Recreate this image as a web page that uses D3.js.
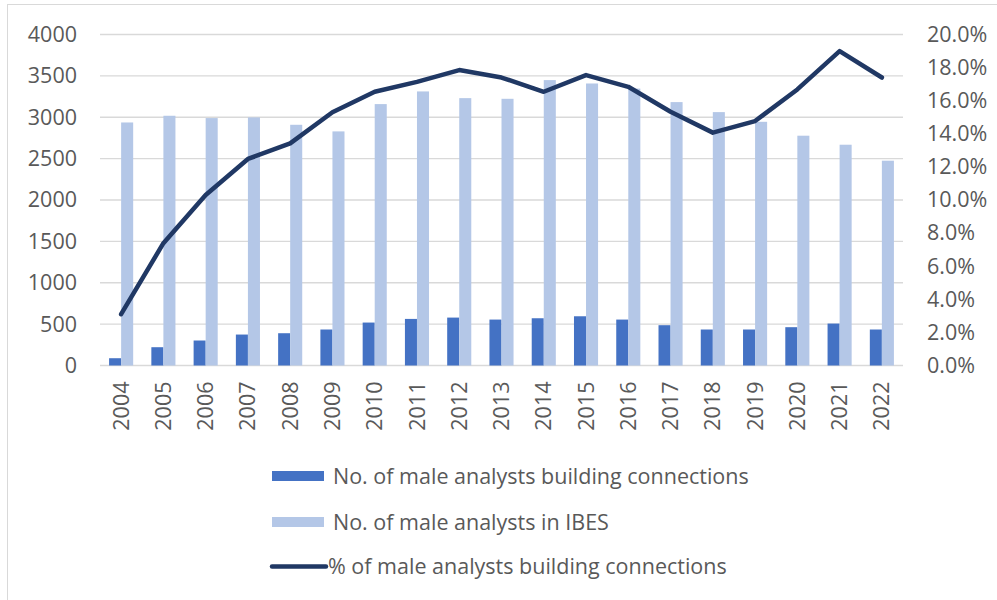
<!DOCTYPE html>
<html lang="en">

<head>
    <meta charset="UTF-8" />
    <script src="https://d3js.org/d3.v7.min.js"></script>
    <title>male analysts</title>
    <style>
        body { margin: 0; background: #fff; }
        svg { display: block; }
        text { font-family: "Open Sans", "Liberation Sans", sans-serif; fill: #595959; }
    </style>
</head>

<body>
    <svg width="997" height="600"></svg>
</body>
<script>
    const years = ["2004", "2005", "2006", "2007", "2008", "2009", "2010", "2011", "2012", "2013",
        "2014", "2015", "2016", "2017", "2018", "2019", "2020", "2021", "2022"]
    const connected = [88, 221, 302, 374, 390, 435, 519, 563, 579, 555, 571, 595, 555, 487, 435, 435, 463, 507, 435]
    const inIbes = [2937, 3018, 2990, 2998, 2909, 2829, 3159, 3312, 3231, 3223, 3449, 3408, 3346, 3183, 3062, 2945, 2777, 2668, 2475]
    const pct = [3.1, 7.39, 10.3, 12.48, 13.42, 15.3, 16.54, 17.14, 17.85, 17.4, 16.54, 17.55, 16.84, 15.33, 14.07, 14.77, 16.68, 19.0, 17.4]
    const leftTicks = [0, 500, 1000, 1500, 2000, 2500, 3000, 3500, 4000]
    const rightTicks = [0, 2, 4, 6, 8, 10, 12, 14, 16, 18, 20]
    const seriesNames = ["No. of male analysts building connections", "No. of male analysts in IBES", "% of male analysts building connections"]
    const colors = ["#4472C4", "#B4C7E7", "#203864"]

    const margin = { left: 100, right: 94, top: 34.5, bottom: 234.5 }
    const width = 997
    const height = 600
    const fs = 21.5

    const svg = d3.select("svg")

    // chart border (right/bottom run off the picture)
    svg.append("rect").attr("x", 7.5).attr("y", 4.5).attr("width", 1000).attr("height", 700)
        .attr("fill", "none").attr("stroke", "#D9D9D9")

    const x0 = d3.scaleBand().domain(years).range([margin.left, width - margin.right]).paddingInner(0.43).paddingOuter(0.215)
    const x1 = d3.scaleBand().domain([0, 1]).range([0, x0.bandwidth()])
    const y = d3.scaleLinear().domain([0, 4000]).range([height - margin.bottom, margin.top])
    const y2 = d3.scaleLinear().domain([0, 20]).range([height - margin.bottom, margin.top])

    // grid
    svg.append("g").selectAll("line").data(leftTicks).enter().append("line")
        .attr("x1", margin.left).attr("x2", width - margin.right)
        .attr("y1", d => y(d)).attr("y2", d => y(d))
        .attr("stroke", "#D9D9D9").attr("stroke-width", 1.3)

    // left axis
    const yAxis = g => g.attr("transform", `translate(${margin.left - 23},0)`)
        .call(d3.axisLeft(y).tickValues(leftTicks).tickSize(0).tickPadding(0).tickFormat(d3.format("d")))
        .call(g => g.select(".domain").remove())
        .call(g => g.selectAll("text").attr("font-size", fs).style("fill", "#595959"))
    svg.append("g").call(yAxis)

    // right axis
    const yAxis2 = g => g.attr("transform", `translate(${width - margin.right + 24},0)`)
        .call(d3.axisRight(y2).tickValues(rightTicks).tickSize(0).tickPadding(0).tickFormat(d => d.toFixed(1) + "%"))
        .call(g => g.select(".domain").remove())
        .call(g => g.selectAll("text").attr("font-size", fs).style("fill", "#595959"))
    svg.append("g").call(yAxis2)

    // bars
    const data = years.map((d, i) => ({ year: d, vals: [connected[i], inIbes[i]] }))
    svg.append("g").selectAll("g").data(data).enter().append("g")
        .attr("transform", d => `translate(${x0(d.year)},0)`)
        .selectAll("rect").data(d => d.vals).enter().append("rect")
        .attr("x", (d, i) => x1(i)).attr("width", x1.bandwidth())
        .attr("y", d => y(d)).attr("height", d => y(0) - y(d))
        .attr("fill", (d, i) => colors[i])

    // x axis
    const xAxis = g => g.attr("transform", `translate(0,${height - margin.bottom})`)
        .call(d3.axisBottom(x0).tickSize(0).tickPadding(0))
        .call(g => g.select(".domain").remove())
        .call(g => g.selectAll("text").attr("font-size", fs).style("fill", "#595959")
            .attr("text-anchor", "end").attr("dy", "0.35em")
            .attr("transform", "translate(0,16) rotate(-90)"))
    svg.append("g").call(xAxis)

    // line
    const line = d3.line().x((d, i) => x0(years[i]) + x0.bandwidth() / 2).y(d => y2(d))
    svg.append("path").datum(pct).attr("d", line)
        .attr("fill", "none").attr("stroke", colors[2]).attr("stroke-width", 4.5)
        .attr("stroke-linejoin", "round").attr("stroke-linecap", "round")

    // legend
    const legendY = [476, 522, 566.5]
    const lg = svg.append("g")
    lg.append("rect").attr("x", 272).attr("y", legendY[0] - 5).attr("width", 52).attr("height", 10).attr("fill", colors[0])
    lg.append("rect").attr("x", 272).attr("y", legendY[1] - 5).attr("width", 52).attr("height", 10).attr("fill", colors[1])
    lg.append("line").attr("x1", 272).attr("x2", 326).attr("y1", legendY[2]).attr("y2", legendY[2])
        .attr("stroke", colors[2]).attr("stroke-width", 4.5).attr("stroke-linecap", "round")
    lg.selectAll("text").data(seriesNames).enter().append("text")
        .attr("x", (d, i) => i === 2 ? 328 : 333).attr("y", (d, i) => legendY[i]).attr("dy", "0.35em")
        .attr("font-size", fs).text(d => d)
</script>

</html>
